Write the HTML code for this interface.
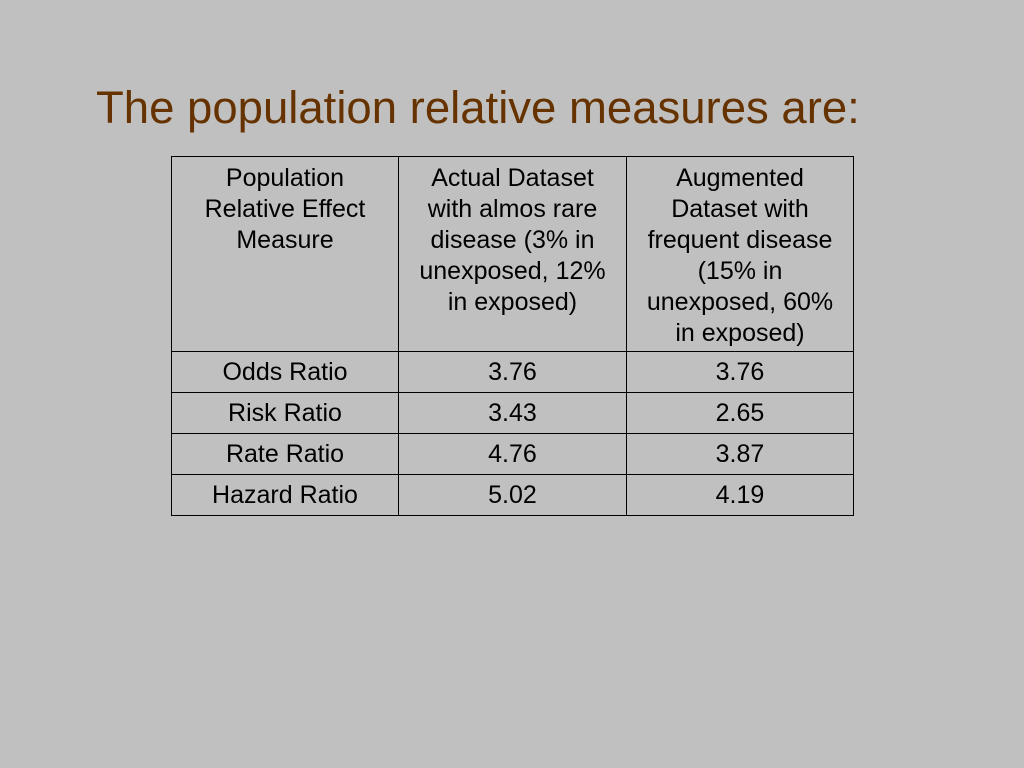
<!DOCTYPE html>
<html><head><meta charset="utf-8"><style>
body{margin:0;width:1024px;height:768px;background:#c0c0c0;position:relative;overflow:hidden;font-family:"Liberation Sans",Arial,sans-serif;}
#title{position:absolute;left:96px;top:82px;font-size:45.5px;color:#663300;white-space:nowrap;}
table{position:absolute;left:171px;top:156px;border-collapse:collapse;table-layout:fixed;}
td{border:1.5px solid #000;text-align:center;font-size:25px;line-height:31px;color:#000;padding:0;white-space:nowrap;}
.h td{height:195px;vertical-align:top;padding-top:6px;box-sizing:border-box;}
.r td{height:40px;vertical-align:middle;}
</style></head><body>
<div id="title">The population relative measures are:</div>
<table>
<colgroup><col style="width:227px"><col style="width:228px"><col style="width:227px"></colgroup>
<tr class="h">
<td>Population<br>Relative Effect<br>Measure</td>
<td>Actual Dataset<br>with almos rare<br>disease (3% in<br>unexposed, 12%<br>in exposed)</td>
<td>Augmented<br>Dataset with<br>frequent disease<br>(15% in<br>unexposed, 60%<br>in exposed)</td></tr>
<tr class="r"><td>Odds Ratio</td><td>3.76</td><td>3.76</td></tr>
<tr class="r"><td>Risk Ratio</td><td>3.43</td><td>2.65</td></tr>
<tr class="r"><td>Rate Ratio</td><td>4.76</td><td>3.87</td></tr>
<tr class="r"><td>Hazard Ratio</td><td>5.02</td><td>4.19</td></tr>
</table>
</body></html>
